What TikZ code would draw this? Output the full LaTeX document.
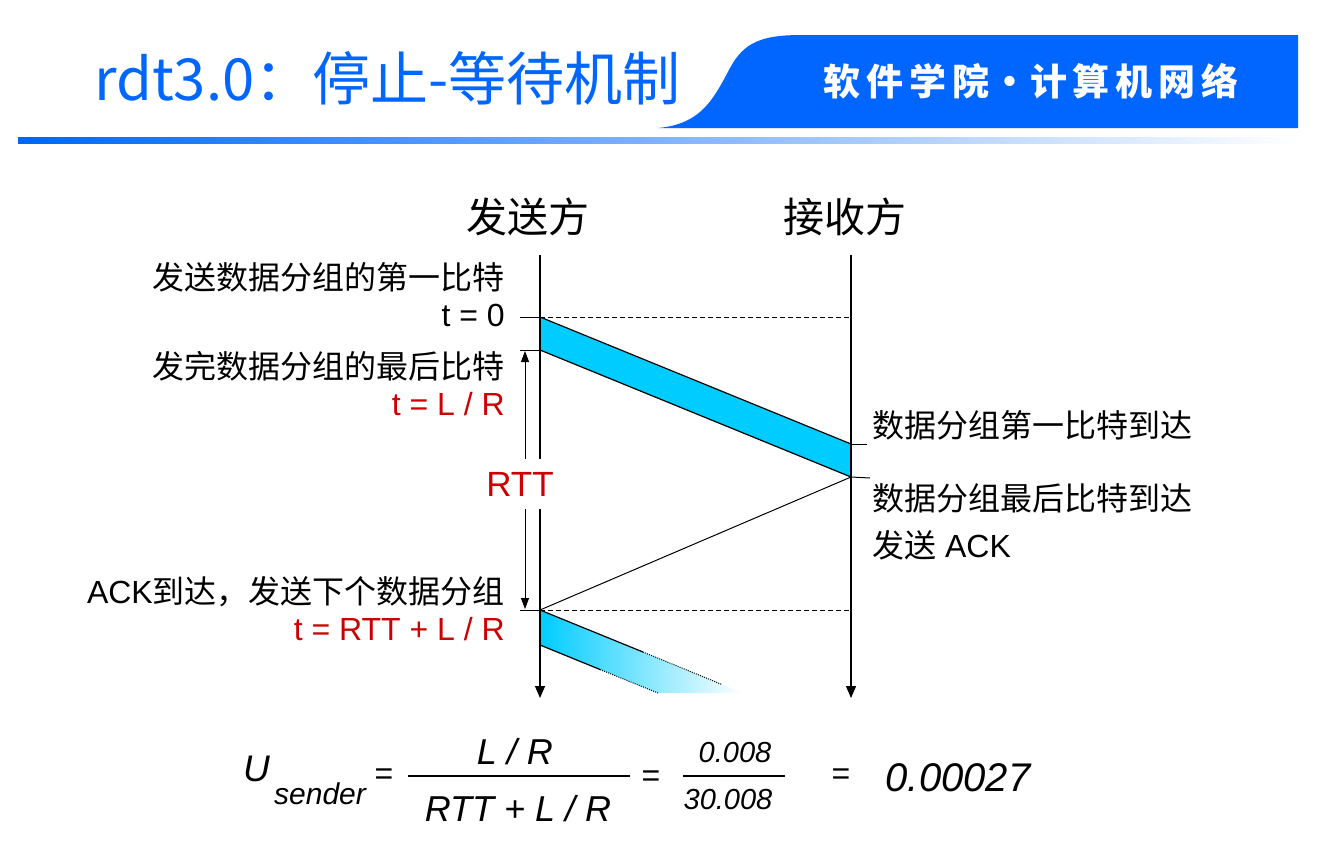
\documentclass[tikz,border=0pt]{standalone}
\usepackage{fontspec}
\setmainfont{Liberation Sans}
\newfontfamily\cjk{Noto Sans CJK SC}
\newfontfamily\cjkhdr[LetterSpace=16]{Noto Sans CJK SC}
\usetikzlibrary{arrows.meta}
\definecolor{hdrblue}{RGB}{0,102,255}
\definecolor{pktcyan}{RGB}{0,204,255}
\definecolor{lblred}{RGB}{204,0,0}
\newcommand\zhtxt[1]{{\cjk #1}}
\begin{document}
\begin{tikzpicture}[x=1pt,y=-1pt,
  lbl/.style={font=\fontsize{32}{36}\selectfont, inner sep=0pt},
  leftlbl/.style={lbl, anchor=east},
  rightlbl/.style={lbl, anchor=west},
  redtxt/.style={text=lblred},
  partyname/.style={font=\cjk\fontsize{41}{46}\selectfont, inner sep=0pt},
  timeline/.style={line width=1.3pt, -{Triangle[width=10pt,length=12pt]}},
  tickline/.style={line width=1pt},
  dashline/.style={line width=0.9pt, dash pattern=on 5pt off 3pt},
  pktedge/.style={line width=1.2pt},
  fadedge/.style={line width=1pt, dash pattern=on 1pt off 1.2pt},
  rttarr/.style={line width=1pt, -{Triangle[width=8pt,length=11pt]}},
  fmla/.style={inner sep=0pt, font=\itshape\fontsize{#1}{#1}\selectfont},
  fmlaeq/.style={inner sep=0pt, font=\fontsize{32}{32}\selectfont},
  fracline/.style={line width=2.8pt}
]
\useasboundingbox (0,0) rectangle (1332,865);

% ---------- header ----------
\fill[hdrblue] (658,128) .. controls (702,124) and (714,98) .. (730,68)
  .. controls (744,42) and (762,35) .. (802,35) -- (1298,35) -- (1298,128) -- cycle;
\shade[left color=hdrblue, right color=white] (18,137) rectangle (1300,143);
\node[anchor=west, inner sep=0pt, text=hdrblue, font=\cjk\fontsize{58}{64}\selectfont] (title) at (94,78) {rdt3.0：停止-等待机制};
\node[inner sep=0pt, text=white, font=\cjkhdr\bfseries\fontsize{37}{40}\selectfont] (school) at (1031,81) {软件学院\hspace{2pt}·\hspace{2pt}计算机网络};

% ---------- coordinates ----------
\coordinate (s0) at (540,255);
\coordinate (s1) at (540,698);
\coordinate (r0) at (851,255);
\coordinate (r1) at (851,698);
\coordinate (p1a) at (540,317);
\coordinate (p1b) at (540,350);
\coordinate (p1c) at (851,477);
\coordinate (p1d) at (851,444);
\coordinate (ack) at (540,610);
\coordinate (q2) at (540,645);
\coordinate (qtopend) at (743,693);
\coordinate (qbotend) at (658,693);
\coordinate (qtopsolid) at (643,652);
\coordinate (qtopdot) at (722,684.5);
\coordinate (qbotsolid) at (600,669.5);
\coordinate (tk0) at (520,317);
\coordinate (tk1) at (520,350);
\coordinate (tk2) at (520,610);
\coordinate (rk0) at (867,444);
\coordinate (rk1) at (870,478);
\coordinate (dash0) at (851,317);
\coordinate (dash1) at (851,610);
\coordinate (rttmid) at (525,480);
\coordinate (rtttop) at (525,351);
\coordinate (rttbot) at (525,609);

% ---------- packets ----------
\fill[pktcyan] (p1a) -- (p1d) -- (p1c) -- (p1b) -- cycle;
\shade[left color=pktcyan, right color=white] (ack) -- (qtopend) -- (qbotend) -- (q2) -- cycle;

% ---------- timelines ----------
\draw[timeline] (s0) -- (s1);
\draw[timeline] (r0) -- (r1);

\draw[pktedge] (p1a) -- (p1d);
\draw[pktedge] (p1b) -- (p1c);
\draw[pktedge] (ack) -- (qtopsolid);
\draw[fadedge] (qtopsolid) -- (qtopdot);
\draw[pktedge] (q2) -- (qbotsolid);
\draw[fadedge] (qbotsolid) -- (qbotend);

\draw[line width=1pt] (p1c) -- (ack);

\draw[tickline] (tk0) -- (p1a);
\draw[tickline] (tk1) -- (p1b);
\draw[tickline] (tk2) -- (ack);
\draw[tickline] (p1d) -- (rk0);
\draw[tickline] (p1c) -- (rk1);
\draw[dashline] (p1a) -- (dash0);
\draw[dashline] (ack) -- (dash1);

% ---------- RTT ----------
\draw[rttarr] (rttmid) -- (rtttop);
\draw[rttarr] (rttmid) -- (rttbot);
\node[fill=white, inner sep=0pt, minimum width=72pt, minimum height=50pt, text=lblred, font=\fontsize{35}{38}\selectfont] (rtt) at (520,484) {RTT};

% ---------- party names ----------
\node[partyname] (sender) at (528,217) {发送方};
\node[partyname] (receiver) at (845,217) {接收方};

% ---------- sender labels ----------
\node[leftlbl] (l1) at (505,277) {\zhtxt{发送数据分组的第一比特}};
\node[leftlbl] (l2) at (505,315) {t = 0};
\node[leftlbl] (l3) at (505,366) {\zhtxt{发完数据分组的最后比特}};
\node[leftlbl, redtxt] (l4) at (505,404) {t = L / R};
\node[leftlbl] (l5) at (505,592) {ACK\zhtxt{到达，发送下个数据分组}};
\node[leftlbl, redtxt] (l6) at (505,629) {t = RTT + L / R};

% ---------- receiver labels ----------
\node[rightlbl] (r1l) at (872,425) {\zhtxt{数据分组第一比特到达}};
\node[rightlbl] (r2l) at (872,498) {\zhtxt{数据分组最后比特到达}};
\node[rightlbl] (r3l) at (872,545) {\zhtxt{发送} ACK};

% ---------- formula ----------
\node[fmla=37] (fu) at (257,769) {U};
\node[fmla=30, anchor=west] (fsub) at (274,794) {sender};
\node[fmlaeq] (feq1) at (384,777) {=};
\node[fmla=36] (fnum) at (515,752) {L / R};
\node[fmla=36] (fden) at (518,809) {RTT + L / R};
\coordinate (fl0) at (408,776);
\coordinate (fl1) at (630,776);
\draw[fracline] (fl0) -- (fl1);
\node[fmlaeq] (feq2) at (651,779) {=};
\node[fmla=29] (fnum2) at (735,753) {0.008};
\node[fmla=29] (fden2) at (728,800) {30.008};
\coordinate (fm0) at (683,776);
\coordinate (fm1) at (785,776);
\draw[fracline, line width=2.4pt] (fm0) -- (fm1);
\node[fmlaeq] (feq3) at (841,777) {=};
\node[fmla=40] (fres) at (958,778) {0.00027};
\end{tikzpicture}
\end{document}
